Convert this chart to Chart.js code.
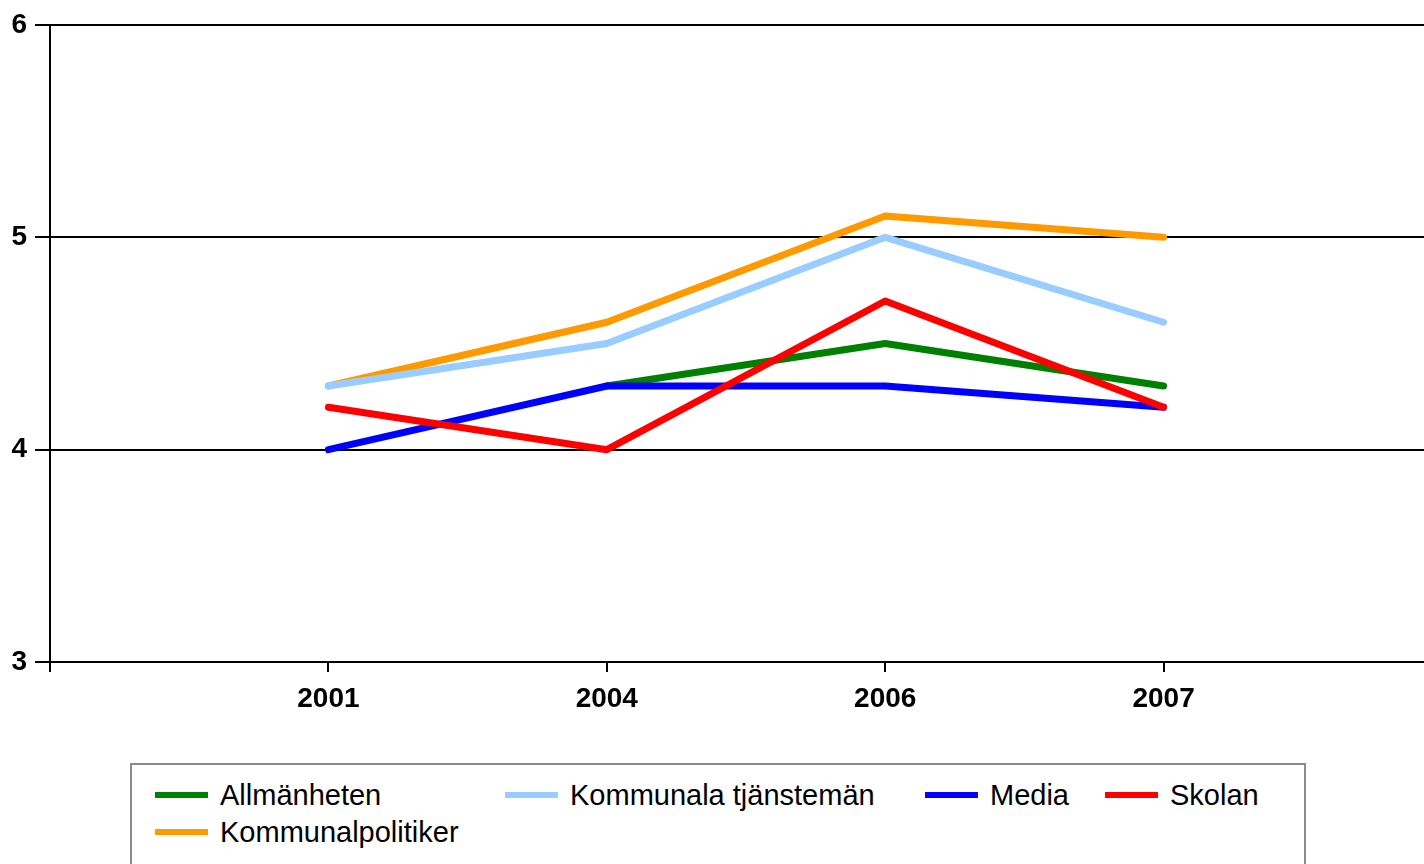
<!DOCTYPE html>
<html>
<head>
<meta charset="utf-8">
<script src="https://cdn.jsdelivr.net/npm/chart.js@4"></script>
<style>
  html, body { margin: 0; padding: 0; background: #fff; overflow: hidden; }
  #wrap { position: absolute; left: 0; top: 0; width: 1452px; height: 864px; }
  #legend {
    position: absolute; left: 130px; top: 763px; width: 1172px; height: 120px;
    border: 2px solid #8c8c8c; background: #fff;
    font-family: "Liberation Sans", Arial, sans-serif; font-size: 29px; color: #000;
  }
  .item { position: absolute; height: 32px; line-height: 32px; white-space: nowrap; }
  .item span.swatch { position: absolute; left: 0; top: 13px; width: 53px; height: 6px; }
  .item span.txt { position: absolute; left: 65px; top: 0; }
</style>
</head>
<body>
<div id="wrap"><canvas id="chart" width="1452" height="864"></canvas></div>
<div id="legend"></div>
<script>
/* Värden */
const years = ['', '2001', '2004', '2006', '2007', ''];
const allmanheten = [null, null, 4.3, 4.5, 4.3, null];
const tjanstemän = [null, 4.3, 4.5, 5.0, 4.6, null];
const media = [null, 4.0, 4.3, 4.3, 4.2, null];
const skolan = [null, 4.2, 4.0, 4.7, 4.2, null];
const politiker = [null, 4.3, 4.6, 5.1, 5.0, null];
const yTicks = [3, 4, 5, 6];

const series = [
  { label: 'Allmänheten', data: allmanheten, color: '#008000', order: 4 },
  { label: 'Kommunala tjänstemän', data: tjanstemän, color: '#99ccff', order: 3 },
  { label: 'Media', data: media, color: '#0000ff', order: 2 },
  { label: 'Skolan', data: skolan, color: '#ff0000', order: 1 },
  { label: 'Kommunalpolitiker', data: politiker, color: '#ff9900', order: 5 }
];

// legend positions (x, y) in the box
const legendPos = [[23, 14], [373, 14], [793, 14], [973, 14], [23, 51]];
const legend = document.getElementById('legend');
series.forEach((s, i) => {
  const d = document.createElement('div');
  d.className = 'item';
  d.style.left = legendPos[i][0] + 'px';
  d.style.top = legendPos[i][1] + 'px';
  d.innerHTML = '<span class="swatch" style="background:' + s.color + '"></span><span class="txt">' + s.label + '</span>';
  legend.appendChild(d);
});

const ctx = document.getElementById('chart');

new Chart(ctx, {
  type: 'line',
  data: {
    labels: years,
    datasets: series.map(s => ({
      label: s.label,
      data: s.data,
      borderColor: s.color,
      backgroundColor: s.color,
      borderWidth: 7,
      borderCapStyle: 'round',
      borderJoinStyle: 'round',
      pointRadius: 0,
      tension: 0,
      order: s.order
    }))
  },
  options: {
    responsive: false,
    animation: false,
    layout: { padding: { top: 25, right: 0, left: 0, bottom: 0 } },
    plugins: { legend: { display: false }, tooltip: { enabled: false } },
    scales: {
      x: {
        offset: false,
        afterFit: s => { s.height = 202; },
        grid: { drawOnChartArea: false, drawTicks: true, tickLength: 10, color: '#000', lineWidth: 2 },
        border: { color: '#000', width: 2 },
        ticks: {
          color: '#000', padding: 10, maxRotation: 0, autoSkip: false,
          font: { family: 'Liberation Sans', size: 28, weight: 'bold' }
        }
      },
      y: {
        min: 3, max: 6,
        afterFit: s => { s.width = 50; },
        afterBuildTicks: s => { s.ticks = yTicks.map(v => ({ value: v })); },
        grid: { color: '#000', lineWidth: 2, tickLength: 15 },
        border: { color: '#000', width: 2 },
        ticks: {
          color: '#000', padding: 8,
          font: { family: 'Liberation Sans', size: 28, weight: 'bold' }
        }
      }
    }
  }
});
</script>
</body>
</html>
